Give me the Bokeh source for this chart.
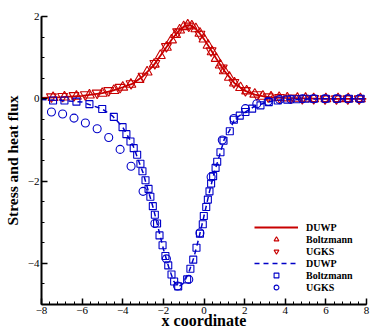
from bokeh.plotting import figure
from bokeh.models import Legend, LegendItem, SingleIntervalTicker, Range1d
from bokeh.embed import file_html
from bokeh.resources import INLINE

# ---- data ----
red_duwp_x = [-8, -7, -6, -5, -4.5, -4, -3.5, -3, -2.5, -2, -1.5, -1.2, -1.0, -0.8, -0.6,
              -0.4, -0.2, 0, 0.3, 0.6, 1.0, 1.5, 2.0, 2.5, 3, 3.5, 4, 5, 6, 7, 8]
red_duwp_y = [0.02, 0.04, 0.07, 0.14, 0.2, 0.28, 0.37, 0.55, 0.8, 1.15, 1.5, 1.67, 1.75, 1.79, 1.77,
              1.70, 1.58, 1.45, 1.22, 0.98, 0.68, 0.38, 0.20, 0.10, 0.05, 0.03, 0.02, 0.01, 0.0, 0.0, 0.0]

red_boltz_x = [-7.43, -6.87, -6.28, -5.64, -5.01, -4.44, -4.0, -3.6, -3.2, -2.8, -2.45, -2.15, -1.85,
               -1.6, -1.4, -1.2, -1.0, -0.8, -0.6, -0.4, -0.2, 0.0, 0.2, 0.4, 0.6, 0.8, 1.0, 1.25,
               1.5, 1.8, 2.1, 2.5, 2.9, 3.3, 3.7, 4.1, 4.6, 5.0, 5.4, 6.0, 6.6, 7.1, 7.7]
red_boltz_y = [0.03, 0.04, 0.06, 0.09, 0.13, 0.20, 0.28, 0.35, 0.47, 0.65, 0.84, 1.05, 1.25,
               1.43, 1.56, 1.67, 1.75, 1.79, 1.77, 1.70, 1.59, 1.45, 1.30, 1.14, 0.98, 0.82, 0.68, 0.52,
               0.38, 0.27, 0.19, 0.11, 0.06, 0.04, 0.03, 0.02, 0.01, 0.01, 0.0, 0.0, 0.0, 0.0, 0.0]

red_ugks_x = [-7.51, -6.96, -6.40, -5.84, -5.26, -4.69, -4.13, -3.59, -3.0, -2.42, -1.85, -1.3, -0.75,
              -0.2, 0.35, 0.9, 1.47, 2.04, 2.6, 3.16, 3.72, 4.28, 4.84, 5.4, 5.96, 6.52, 7.08, 7.64]
red_ugks_y = [0.05, 0.06, 0.08, 0.10, 0.14, 0.20, 0.28, 0.37, 0.55, 0.86, 1.27, 1.63, 1.77,
              1.57, 1.17, 0.75, 0.40, 0.20, 0.10, 0.05, 0.03, 0.02, 0.01, 0.01, 0.0, 0.0, 0.0, 0.0]

blue_duwp_x = [-8, -7, -6, -5, -4.5, -4, -3.5, -3, -2.5, -2, -1.75, -1.5, -1.25, -1.0, -0.75, -0.5,
               -0.25, 0, 0.25, 0.5, 0.75, 1.0, 1.25, 1.5, 1.75, 2.0, 2.5, 3.0, 3.5, 4.0, 5, 6, 7, 8]
blue_duwp_y = [-0.02, -0.04, -0.08, -0.25, -0.42, -0.69, -1.13, -1.80, -2.65, -3.65, -4.07, -4.43,
               -4.57, -4.48, -4.22, -3.86, -3.38, -2.85, -2.30, -1.80, -1.40, -0.98, -0.78, -0.50,
               -0.41, -0.33, -0.18, -0.10, -0.04, -0.02, -0.01, 0.0, 0.0, 0.0]

blue_boltz_x = [-7.43, -6.87, -6.28, -5.64, -5.01, -4.44, -4.01, -3.82, -3.62, -3.46, -3.29, -3.13,
                -3.03, -2.88, -2.73, -2.64, -2.52, -2.42, -2.31, -2.19, -2.04, -1.90, -1.76, -1.60,
                -1.47, -1.27, -0.83, -0.67, -0.53, -0.37, -0.20, -0.06, -0.01, 0.11, 0.19, 0.27,
                0.35, 0.45, 0.57, 0.65, 0.81, 0.96, 1.27, 1.47, 1.76, 2.04, 2.37, 2.78, 3.19, 3.63,
                4.10, 4.56, 5.0, 5.41, 5.99, 6.56, 7.13, 7.71]
blue_boltz_y = [-0.04, -0.04, -0.07, -0.13, -0.25, -0.44, -0.69, -0.86, -1.04, -1.20, -1.36, -1.58,
                -1.76, -1.98, -2.19, -2.38, -2.61, -2.82, -3.03, -3.32, -3.56, -3.82, -4.05, -4.27,
                -4.44, -4.56, -4.39, -4.13, -3.91, -3.62, -3.28, -3.05, -2.85, -2.63, -2.45, -2.25,
                -2.06, -1.88, -1.68, -1.53, -1.30, -1.02, -0.79, -0.51, -0.41, -0.32, -0.24, -0.16,
                -0.08, -0.04, -0.02, -0.01, 0.0, 0.0, 0.0, 0.0, 0.0, 0.0]

blue_ugks_x = [-7.51, -6.96, -6.40, -5.84, -5.26, -4.69, -4.13, -3.59, -3.0, -2.42, -1.85, -1.3, -0.75,
               -0.2, 0.35, 0.9, 1.47, 2.04, 2.6, 3.16, 3.72, 4.28, 4.84, 5.4, 5.96, 6.52, 7.08, 7.64]
blue_ugks_y = [-0.32, -0.37, -0.47, -0.59, -0.73, -0.94, -1.23, -1.64, -2.25, -3.03, -3.89, -4.55, -4.39,
               -3.26, -1.90, -1.00, -0.48, -0.24, -0.12, -0.06, -0.02, -0.01, 0.0, 0.0, 0.0, 0.0, 0.0, 0.0]

legend_labels = ["DUWP", "Boltzmann", "UGKS", "DUWP", "Boltzmann", "UGKS"]

RED = "#c80000"
BLUE = "#0000c8"
FONT = "Liberation Serif"

p = figure(width=374, height=332, x_range=Range1d(-8, 8), y_range=Range1d(-5, 2),
           output_backend="svg", toolbar_location=None,
           min_border_left=41, min_border_right=8, min_border_top=16, min_border_bottom=28)

p.xgrid.grid_line_color = None
p.ygrid.grid_line_color = None
p.outline_line_color = None
p.background_fill_color = "white"

r1 = p.line(red_duwp_x, red_duwp_y, line_color=RED, line_width=1.8)
r2 = p.scatter(red_boltz_x, red_boltz_y, marker="triangle", size=10, fill_color=None,
               line_color=RED, line_width=1.1)
r3 = p.scatter(red_ugks_x, red_ugks_y, marker="inverted_triangle", size=10, fill_color=None,
               line_color=RED, line_width=1.1)
r4 = p.line(blue_duwp_x, blue_duwp_y, line_color=BLUE, line_width=1.5, line_dash="5 4")
r5 = p.scatter(blue_boltz_x, blue_boltz_y, marker="square", size=7, fill_color=None,
               line_color=BLUE, line_width=1.1)
r6 = p.scatter(blue_ugks_x, blue_ugks_y, marker="circle", size=8, fill_color=None,
               line_color=BLUE, line_width=1.1)

p.xaxis.ticker = SingleIntervalTicker(interval=2, num_minor_ticks=5)
p.yaxis.ticker = SingleIntervalTicker(interval=2, num_minor_ticks=4)

for ax in (p.xaxis[0], p.yaxis[0]):
    ax.axis_line_width = 2
    ax.axis_line_color = "black"
    ax.major_tick_in = 6
    ax.major_tick_out = 0
    ax.minor_tick_in = 3
    ax.minor_tick_out = 0
    ax.major_tick_line_width = 1.5
    ax.minor_tick_line_width = 1
    ax.major_label_text_font = FONT
    ax.major_label_text_font_size = "11px"
    ax.major_label_text_color = "black"
    ax.axis_label_text_font = FONT
    ax.axis_label_text_font_style = "bold"
    ax.axis_label_text_color = "black"
    ax.major_label_standoff = 2

p.xaxis.axis_label = "x coordinate"
p.xaxis.axis_label_text_font_size = "16px"
p.xaxis.axis_label_standoff = -5
p.yaxis.axis_label = "Stress and heat flux"
p.yaxis.axis_label_text_font_size = "15.5px"
p.yaxis.axis_label_standoff = 4

items = [LegendItem(label=lab, renderers=[r]) for lab, r in
         zip(legend_labels, [r1, r2, r3, r4, r5, r6])]
legend = Legend(items=items, location=(213, 11), glyph_width=44, glyph_height=12,
                label_height=12, label_standoff=8, spacing=0, padding=0, margin=0,
                border_line_color=None, background_fill_alpha=0,
                label_text_font=FONT, label_text_font_style="bold",
                label_text_font_size="10px", label_text_color="black")
p.add_layout(legend, "center")

open("out.html", "w").write(file_html(p, INLINE))
